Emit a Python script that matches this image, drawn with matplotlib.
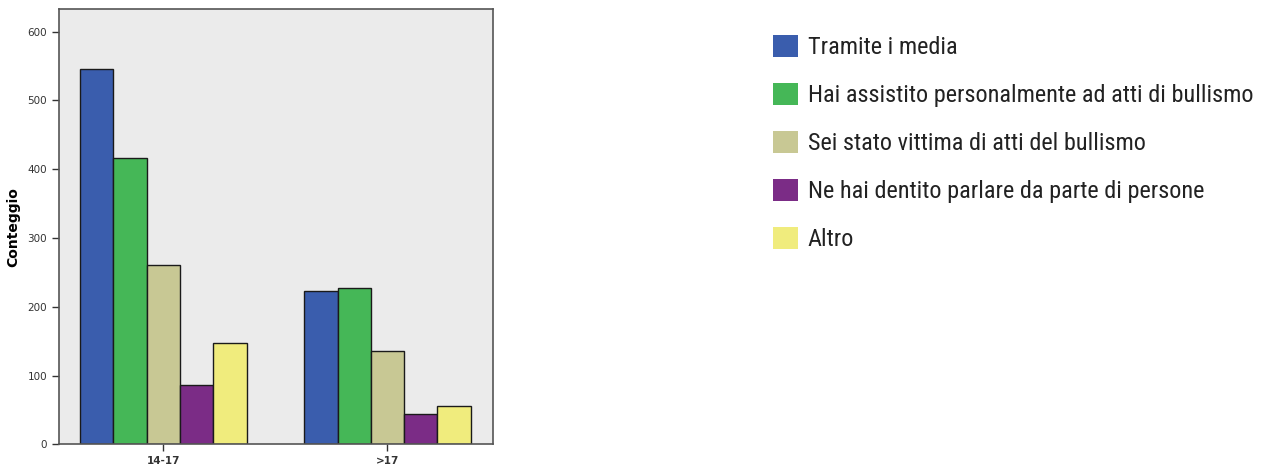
import matplotlib.pyplot as plt
import numpy as np
from matplotlib.patches import Patch
from matplotlib import font_manager as fm

# dati
gruppi = ['14-17', '>17']
serie = ['Tramite i media',
         'Hai assistito personalmente ad atti di bullismo',
         'Sei stato vittima di atti del bullismo',
         'Ne hai dentito parlare da parte di persone',
         'Altro']
tramite_media = [546, 223]
assistito = [416, 228]
vittima = [261, 136]
sentito = [86, 44]
altro = [148, 55]
valori = [tramite_media, assistito, vittima, sentito, altro]
colori = ['#3A5DAD', '#45B757', '#C8C894', '#7B2C86', '#F0EC7D']

# font stretto per la legenda, se c'e'
disponibili = set(f.name for f in fm.fontManager.ttflist)
font_leg, size_leg = 'Liberation Sans', 13
for nome in ['Roboto Condensed', 'Archivo Narrow', 'Asap Condensed']:
    if nome in disponibili:
        font_leg, size_leg = nome, 17.5
        break

fig = plt.figure(figsize=(12.61, 4.66), dpi=100)
ax = fig.add_axes([0.0468, 0.0466, 0.344, 0.934])
ax.set_facecolor('#EBEBEB')

x = np.arange(len(gruppi))
w = 0.1486
for i, (v, c) in enumerate(zip(valori, colori)):
    ax.bar(x + (i - 2) * w, v, width=w, color=c, edgecolor='#1a1a1a', linewidth=1.0, zorder=2)

ax.set_xlim(-0.466, 1.47)
ax.set_ylim(0, 633)
ax.set_yticks([0, 100, 200, 300, 400, 500, 600])
ax.set_xticks(x)
ax.set_xticklabels(gruppi)
ax.tick_params(axis='both', labelsize=7.5, colors='#333333', length=5, width=1)
for lab in ax.get_xticklabels():
    lab.set_fontweight('bold')
ax.set_ylabel('Conteggio', fontsize=10, fontweight='bold', labelpad=5)
for s in ax.spines.values():
    s.set_color('#555555')
    s.set_linewidth(1.2)

handles = [Patch(facecolor=c, edgecolor='none') for c in colori]
fig.legend(handles, serie, loc='upper left', bbox_to_anchor=(0.6036, 0.951),
           frameon=False, prop={'family': [font_leg, 'DejaVu Sans'], 'size': size_leg},
           handlelength=1.0, handleheight=1.0, handletextpad=0.42, labelspacing=0.98,
           borderpad=0, labelcolor='#222222')

fig.savefig('out.png', dpi=100)
